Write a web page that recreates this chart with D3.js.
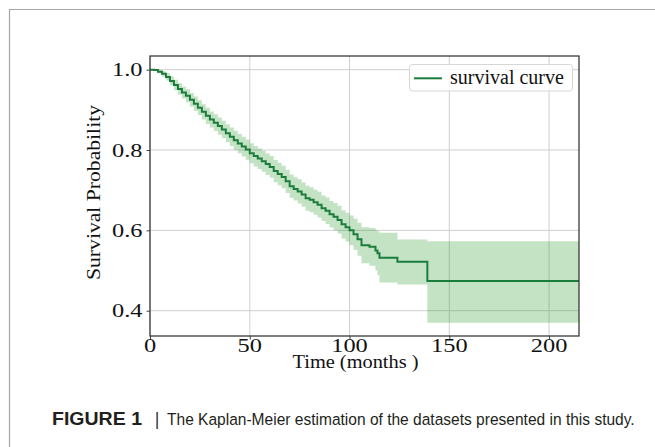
<!DOCTYPE html>
<html>
<head>
<meta charset="utf-8">
<script src="https://cdn.jsdelivr.net/npm/d3@7"></script>
<style>
  body { margin: 0; background: #fff; }
  svg { display: block; }
</style>
</head>
<body>
<svg id="chart" width="655" height="447"></svg>
<script>
// Kaplan-Meier estimate (months, probability)
const times = [0, 2, 4, 6, 8, 10, 12, 14, 16, 18, 20, 22, 24, 26, 28, 30, 32, 34, 36, 38,
  40, 42, 44, 46, 48, 50, 52, 54, 56, 58, 60, 62, 64, 66, 68, 70, 72, 74, 76, 78,
  80, 82, 84, 86, 88, 90, 92, 94, 96, 98, 100, 102, 104, 106, 110, 113, 114, 115, 124, 139, 215];
const survival = [1.000, 0.999, 0.995, 0.990, 0.982, 0.972, 0.962, 0.952, 0.943, 0.935,
  0.925, 0.915, 0.905, 0.895, 0.885, 0.876, 0.868, 0.860, 0.851, 0.842,
  0.833, 0.824, 0.816, 0.809, 0.801, 0.792, 0.785, 0.779, 0.772, 0.765,
  0.758, 0.748, 0.740, 0.733, 0.722, 0.710, 0.703, 0.697, 0.689, 0.680,
  0.676, 0.670, 0.664, 0.655, 0.649, 0.640, 0.634, 0.626, 0.615, 0.608,
  0.600, 0.590, 0.578, 0.563, 0.559, 0.550, 0.543, 0.532, 0.522, 0.474, 0.474];
const ciLower = [1.000, 0.998, 0.991, 0.983, 0.973, 0.961, 0.949, 0.938, 0.928, 0.919,
  0.908, 0.897, 0.887, 0.876, 0.865, 0.856, 0.847, 0.838, 0.829, 0.819,
  0.810, 0.800, 0.792, 0.784, 0.776, 0.767, 0.759, 0.753, 0.746, 0.738,
  0.731, 0.720, 0.712, 0.705, 0.693, 0.681, 0.674, 0.667, 0.659, 0.649,
  0.645, 0.639, 0.632, 0.623, 0.616, 0.607, 0.600, 0.592, 0.580, 0.572,
  0.563, 0.551, 0.537, 0.518, 0.512, 0.500, 0.488, 0.470, 0.465, 0.370, 0.370];
const ciUpper = [1.000, 1.000, 0.999, 0.996, 0.991, 0.983, 0.975, 0.966, 0.958, 0.951,
  0.942, 0.933, 0.924, 0.914, 0.905, 0.896, 0.889, 0.881, 0.873, 0.864,
  0.856, 0.848, 0.840, 0.833, 0.826, 0.817, 0.810, 0.804, 0.798, 0.791,
  0.785, 0.775, 0.768, 0.761, 0.751, 0.739, 0.732, 0.727, 0.719, 0.711,
  0.707, 0.701, 0.696, 0.687, 0.682, 0.673, 0.668, 0.661, 0.650, 0.644,
  0.637, 0.629, 0.619, 0.608, 0.606, 0.600, 0.598, 0.594, 0.577, 0.573, 0.573];

const xTicks = [0, 50, 100, 150, 200];
const yTicks = [0.4, 0.6, 0.8, 1.0];
const seriesName = "survival curve";
const xTitle = "Time (months )";
const yTitle = "Survival Probability";
const captionBold = "FIGURE 1";
const captionText = "The Kaplan-Meier estimation of the datasets presented in this study.";

const plot = { left: 150, right: 579, top: 56, bottom: 336 };
const serif = "'Liberation Serif', 'Times New Roman', serif";
const lineColor = "#1b7d3c";
const bandColor = "rgb(19,139,19)";
const gridColor = "#cfcfcf";
const textColor = "#111";

const svg = d3.select("#chart");

// outer figure frame
svg.append("path")
  .attr("d", "M9.5,447 L9.5,9.5 L655,9.5")
  .attr("fill", "none")
  .attr("stroke", "#a6a6a6")
  .attr("stroke-width", 1.2);

const data = times.map((t, i) => ({ t, s: survival[i], lo: ciLower[i], hi: ciUpper[i] }));

const x = d3.scaleLinear().domain([0, 215]).range([plot.left, plot.right]);
const y = d3.scaleLinear().domain([0.337, 1.034]).range([plot.bottom, plot.top]);

/* ========== GRID ========== */
const grid = svg.append("g");
grid.selectAll("line.gx").data(xTicks).join("line")
  .attr("x1", d => x(d)).attr("x2", d => x(d))
  .attr("y1", plot.top).attr("y2", plot.bottom)
  .attr("stroke", gridColor).attr("stroke-width", 1);
grid.selectAll("line.gy").data(yTicks).join("line")
  .attr("x1", plot.left).attr("x2", plot.right)
  .attr("y1", d => y(d)).attr("y2", d => y(d))
  .attr("stroke", gridColor).attr("stroke-width", 1);

/* ========== BAND + CURVE ========== */
const band = d3.area()
  .curve(d3.curveStepAfter)
  .x(d => x(d.t))
  .y0(d => y(d.lo))
  .y1(d => y(d.hi));

svg.append("path")
  .datum(data)
  .attr("fill", bandColor)
  .attr("fill-opacity", 0.25)
  .attr("d", band);

const km = d3.line()
  .curve(d3.curveStepAfter)
  .x(d => x(d.t))
  .y(d => y(d.s));

svg.append("path")
  .datum(data)
  .attr("fill", "none")
  .attr("stroke", lineColor)
  .attr("stroke-width", 2)
  .attr("d", km);

/* ========== AXES ========== */
const xAxis = svg.append("g")
  .attr("transform", `translate(0,${plot.bottom})`)
  .call(d3.axisBottom(x).tickValues(xTicks).tickSize(3.5).tickFormat(""));
const yAxis = svg.append("g")
  .attr("transform", `translate(${plot.left},0)`)
  .call(d3.axisLeft(y).tickValues(yTicks).tickSize(3.5).tickFormat(""));
[xAxis, yAxis].forEach(g => {
  g.select(".domain").remove();
  g.selectAll("line").attr("stroke", "#444").attr("stroke-width", 1);
});

// frame (all four spines)
svg.append("rect")
  .attr("x", plot.left).attr("y", plot.top)
  .attr("width", plot.right - plot.left).attr("height", plot.bottom - plot.top)
  .attr("fill", "none").attr("stroke", "#3a3a3a").attr("stroke-width", 1.3);

// tick labels (glyphs in the figure are drawn wide, so stretch them)
const tickSize = 19.5, stretch = 1.25;
svg.append("g").selectAll("text").data(xTicks).join("text")
  .attr("x", d => x(d)).attr("y", 351.5)
  .attr("text-anchor", "middle")
  .attr("font-family", serif).attr("font-size", tickSize)
  .attr("fill", textColor)
  .attr("textLength", d => String(d).length * tickSize * 0.5 * stretch)
  .attr("lengthAdjust", "spacingAndGlyphs")
  .text(d => d);

svg.append("g").selectAll("text").data(yTicks).join("text")
  .attr("x", d => 142.5 - 1.25 * tickSize * stretch)
  .attr("y", d => y(d) + 6.5)
  .attr("font-family", serif).attr("font-size", tickSize)
  .attr("fill", textColor)
  .attr("textLength", 1.25 * tickSize * stretch)
  .attr("lengthAdjust", "spacingAndGlyphs")
  .text(d => d.toFixed(1));

// axis titles
svg.append("text")
  .attr("x", 355.5 - 63).attr("y", 368)
  .attr("font-family", serif).attr("font-size", 18)
  .attr("fill", textColor)
  .attr("textLength", 126).attr("lengthAdjust", "spacingAndGlyphs")
  .text(xTitle);

svg.append("text")
  .attr("transform", `translate(99.6,${192.5 + 87.5}) rotate(-90)`)
  .attr("font-family", serif).attr("font-size", 18)
  .attr("fill", textColor)
  .attr("textLength", 175).attr("lengthAdjust", "spacingAndGlyphs")
  .text(yTitle);

/* ========== LEGEND ========== */
const legend = svg.append("g");
legend.append("rect")
  .attr("x", 409.5).attr("y", 64.5).attr("width", 163).attr("height", 26.5)
  .attr("rx", 3)
  .attr("fill", "#fff").attr("fill-opacity", 0.85)
  .attr("stroke", "#d6d6d6").attr("stroke-width", 1);
legend.append("line")
  .attr("x1", 414).attr("x2", 442).attr("y1", 78.3).attr("y2", 78.3)
  .attr("stroke", lineColor).attr("stroke-width", 2);
legend.append("text")
  .attr("x", 450).attr("y", 83.5)
  .attr("font-family", serif).attr("font-size", 20)
  .attr("fill", textColor)
  .text(seriesName);

/* ========== CAPTION ========== */
const sans = "'Liberation Sans', Arial, sans-serif";
svg.append("text")
  .attr("transform", "translate(52,425) scale(1,1.1)")
  .attr("font-family", sans).attr("font-size", 17).attr("font-weight", "bold")
  .attr("fill", "#231f20")
  .attr("textLength", 90).attr("lengthAdjust", "spacingAndGlyphs")
  .text(captionBold);
svg.append("text")
  .attr("transform", "translate(155,425) scale(1,1.1)")
  .attr("font-family", sans).attr("font-size", 16)
  .attr("fill", "#231f20")
  .text("|");
svg.append("text")
  .attr("transform", "translate(167,425) scale(1,1.1)")
  .attr("font-family", sans).attr("font-size", 15.55)
  .attr("fill", "#231f20")
  .text(captionText);
</script>
</body>
</html>
